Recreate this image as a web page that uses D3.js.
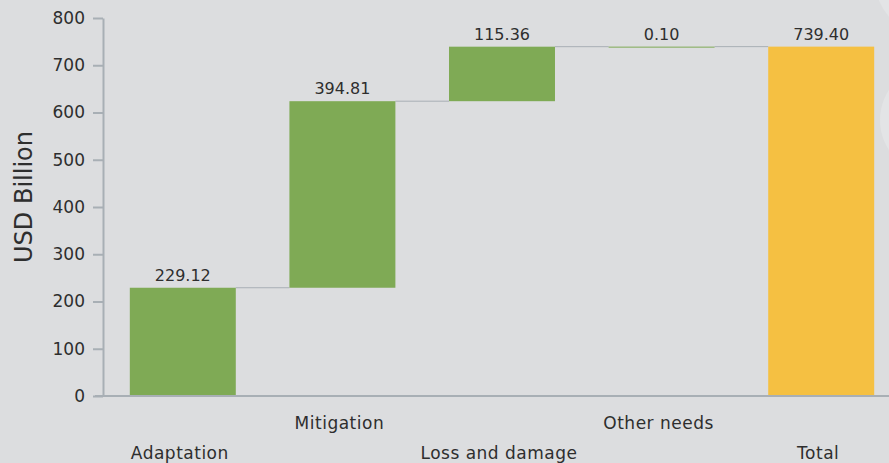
<!DOCTYPE html>
<html>
<head>
<meta charset="utf-8">
<script src="https://cdn.jsdelivr.net/npm/d3@7"></script>
<style>
  html, body { margin: 0; padding: 0; background: #dcdddf; }
  svg { display: block; font-family: "DejaVu Sans", "Noto Sans", sans-serif; }
</style>
</head>
<body>
<div id="chart"></div>
<script>
// waterfall data
var categories = ["Adaptation", "Mitigation", "Loss and damage", "Other needs", "Total"];
var values = [229.12, 394.81, 115.36, 0.10, 739.40];
var isTotal = [false, false, false, false, true];
var yTicks = [0, 100, 200, 300, 400, 500, 600, 700, 800];

var width = 889, height = 463;
var green = "#7faa55", yellow = "#f5c042", axisColor = "#a8afb5", textColor = "#2e2e2e";

var svg = d3.select("#chart").append("svg")
    .attr("width", width)
    .attr("height", height);

// faint background shapes on the right edge
svg.append("circle").attr("cx", 930).attr("cy", -20).attr("r", 55)
    .style("fill", "#e3e4e6");
svg.append("circle").attr("cx", 935).attr("cy", 120).attr("r", 55)
    .style("fill", "#e3e4e6");

var x = d3.scaleBand()
    .domain(categories)
    .range([103, 901])
    .paddingInner(0.336)
    .paddingOuter(0.168);

var y = d3.scaleLinear()
    .domain([0, 800])
    .range([396, 18]);

// build start / end of each step
var running = 0;
var steps = categories.map(function(c, i) {
    var s, e;
    if (isTotal[i]) { s = 0; e = values[i]; }
    else { s = running; e = running + values[i]; running = e; }
    return { name: c, start: s, end: e, value: values[i], total: isTotal[i], i: i };
});

// y axis
var yAxis = svg.append("g")
    .attr("transform", "translate(103,0)")
    .call(d3.axisLeft(y).tickValues(yTicks).tickSize(10).tickSizeOuter(0).tickPadding(8));
yAxis.select(".domain").attr("stroke", axisColor).attr("stroke-width", 2);
yAxis.selectAll(".tick line").attr("stroke", axisColor).attr("stroke-width", 2);
yAxis.selectAll(".tick text")
    .style("font-family", "DejaVu Sans, sans-serif")
    .style("font-size", "17px")
    .attr("fill", textColor);

// y axis title
svg.append("text")
    .attr("transform", "translate(32,197) rotate(-90)")
    .attr("text-anchor", "middle")
    .style("font-size", "24px")
    .attr("fill", textColor)
    .text("USD Billion");

// connector lines
steps.forEach(function(d, i) {
    if (i === steps.length - 1) return;
    var next = steps[i + 1];
    svg.append("line")
        .attr("x1", x(d.name) + x.bandwidth())
        .attr("x2", x(next.name))
        .attr("y1", y(d.end))
        .attr("y2", y(d.end))
        .attr("stroke", "#a8afb5")
        .attr("stroke-width", 1);
});

// bars
svg.selectAll("rect.bar")
    .data(steps)
    .enter().append("rect")
    .attr("class", "bar")
    .attr("x", function(d) { return x(d.name); })
    .attr("width", x.bandwidth())
    .attr("y", function(d) { return y(d.end); })
    .attr("height", function(d) { return Math.max(1, y(d.start) - y(d.end)); })
    .style("fill", function(d) { return d.total ? yellow : green; });

// value labels
svg.selectAll("text.val")
    .data(steps)
    .enter().append("text")
    .attr("class", "val")
    .attr("x", function(d) { return x(d.name) + x.bandwidth() / 2; })
    .attr("y", function(d) { return y(d.end) - 7; })
    .attr("text-anchor", "middle")
    .style("font-size", "16px")
    .attr("fill", textColor)
    .text(function(d) { return d.value.toFixed(2); });

// x axis baseline
svg.append("line")
    .attr("x1", 95).attr("x2", width)
    .attr("y1", y(0)).attr("y2", y(0))
    .attr("stroke", axisColor).attr("stroke-width", 2);

// category labels, staggered
svg.selectAll("text.cat")
    .data(steps)
    .enter().append("text")
    .attr("class", "cat")
    .attr("x", function(d) { return x(d.name) + x.bandwidth() / 2 - 3; })
    .attr("y", function(d) { return d.i % 2 === 1 ? 429 : 459; })
    .attr("text-anchor", "middle")
    .style("font-size", "17px")
    .style("letter-spacing", "0.5px")
    .attr("fill", textColor)
    .text(function(d) { return d.name; });
</script>
</body>
</html>
